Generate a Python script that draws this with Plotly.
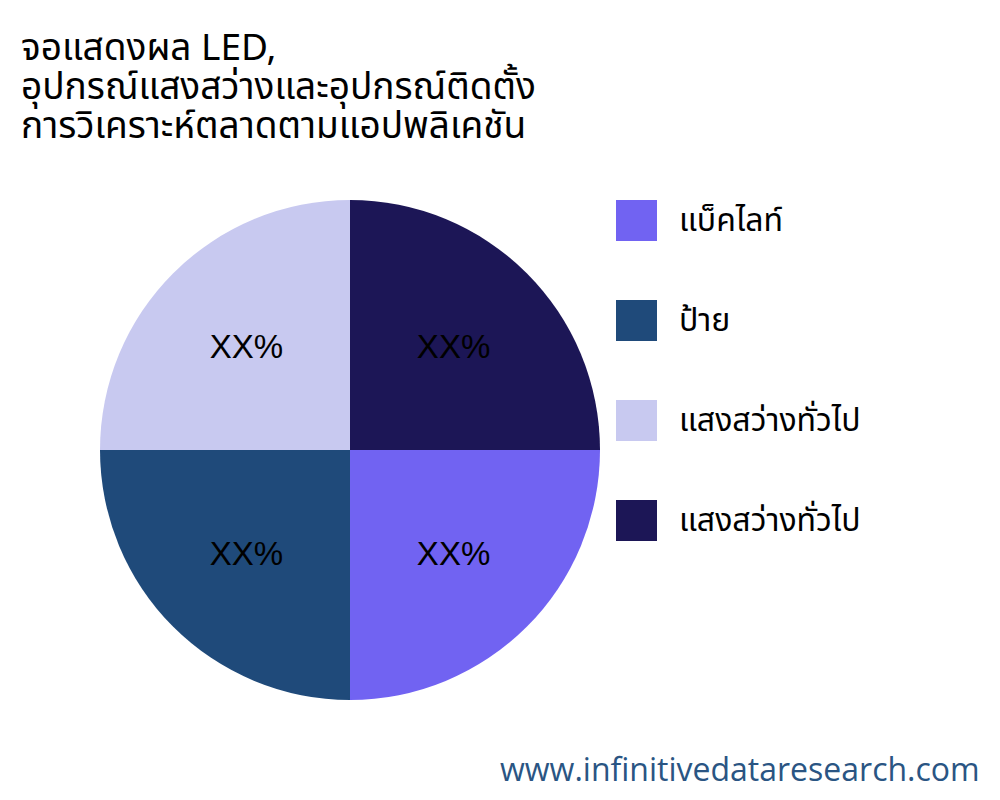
import plotly.graph_objects as go

# ---- data ----
categories = ["แบ็คไลท์", "ป้าย", "แสงสว่างทั่วไป", "แสงสว่างทั่วไป"]
values = [25, 25, 25, 25]
slice_text = ["XX%", "XX%", "XX%", "XX%"]
colors = ["#7163F2", "#1F4A7A", "#C8C9F0", "#1C1656"]

title_lines = ["จอแสดงผล LED,", "อุปกรณ์แสงสว่างและอุปกรณ์ติดตั้ง", "การวิเคราะห์ตลาดตามแอปพลิเคชัน"]
watermark = "www.infinitivedataresearch.com"

W, H = 1000, 800
thai_font = "Noto Sans Thai, Noto Sans, sans-serif"

def px(x):
    return x / W

def py(y):
    return 1 - y / H

# pie aggregates equal labels, so make the duplicate unique invisibly
pie_labels = [c + "\u200b" * i for i, c in enumerate(categories)]

fig = go.Figure()
fig.add_trace(go.Pie(
    labels=pie_labels,
    values=values,
    text=slice_text,
    textinfo="text",
    textposition="inside",
    insidetextorientation="horizontal",
    textfont=dict(family="Liberation Sans, Arial, sans-serif", size=33, color="#000000"),
    marker=dict(colors=colors, line=dict(width=0)),
    sort=False,
    direction="clockwise",
    rotation=90,
    showlegend=False,
    domain=dict(x=[px(92), px(592)], y=[py(692), py(192)]),
    hoverinfo="label+percent",
))

# custom legend (layout elements)
shapes = []
annotations = []
leg_x0, leg_size, leg_top, leg_step, leg_text_x = 608, 41, 192, 100, 669
for i, (cat, col) in enumerate(zip(categories, colors)):
    y0 = leg_top + i * leg_step
    shapes.append(dict(type="rect", xref="paper", yref="paper",
                       x0=px(leg_x0), x1=px(leg_x0 + leg_size),
                       y0=py(y0 + leg_size), y1=py(y0),
                       fillcolor=col, line=dict(width=0)))
    annotations.append(dict(xref="paper", yref="paper",
                            x=px(leg_text_x), y=py(y0 + leg_size / 2),
                            xanchor="left", yanchor="middle", showarrow=False,
                            text=cat, font=dict(family=thai_font, size=32, color="#000000")))

title_top, title_step = 41, 39
for i, line in enumerate(title_lines):
    annotations.append(dict(xref="paper", yref="paper", x=px(12), y=py(title_top + i * title_step),
                            xanchor="left", yanchor="middle", align="left", showarrow=False,
                            borderpad=0,
                            text=line,
                            font=dict(family=thai_font, size=37, color="#000000")))

annotations.append(dict(xref="paper", yref="paper", x=px(974), y=py(760),
                        xanchor="right", yanchor="middle", showarrow=False,
                        text=watermark,
                        font=dict(family="Open Sans, sans-serif", size=32, color="#2A5583")))

fig.update_layout(
    width=W, height=H,
    margin=dict(l=0, r=0, t=0, b=0),
    paper_bgcolor="#FFFFFF",
    plot_bgcolor="#FFFFFF",
    shapes=shapes,
    annotations=annotations,
)

fig.write_html("out.html")
